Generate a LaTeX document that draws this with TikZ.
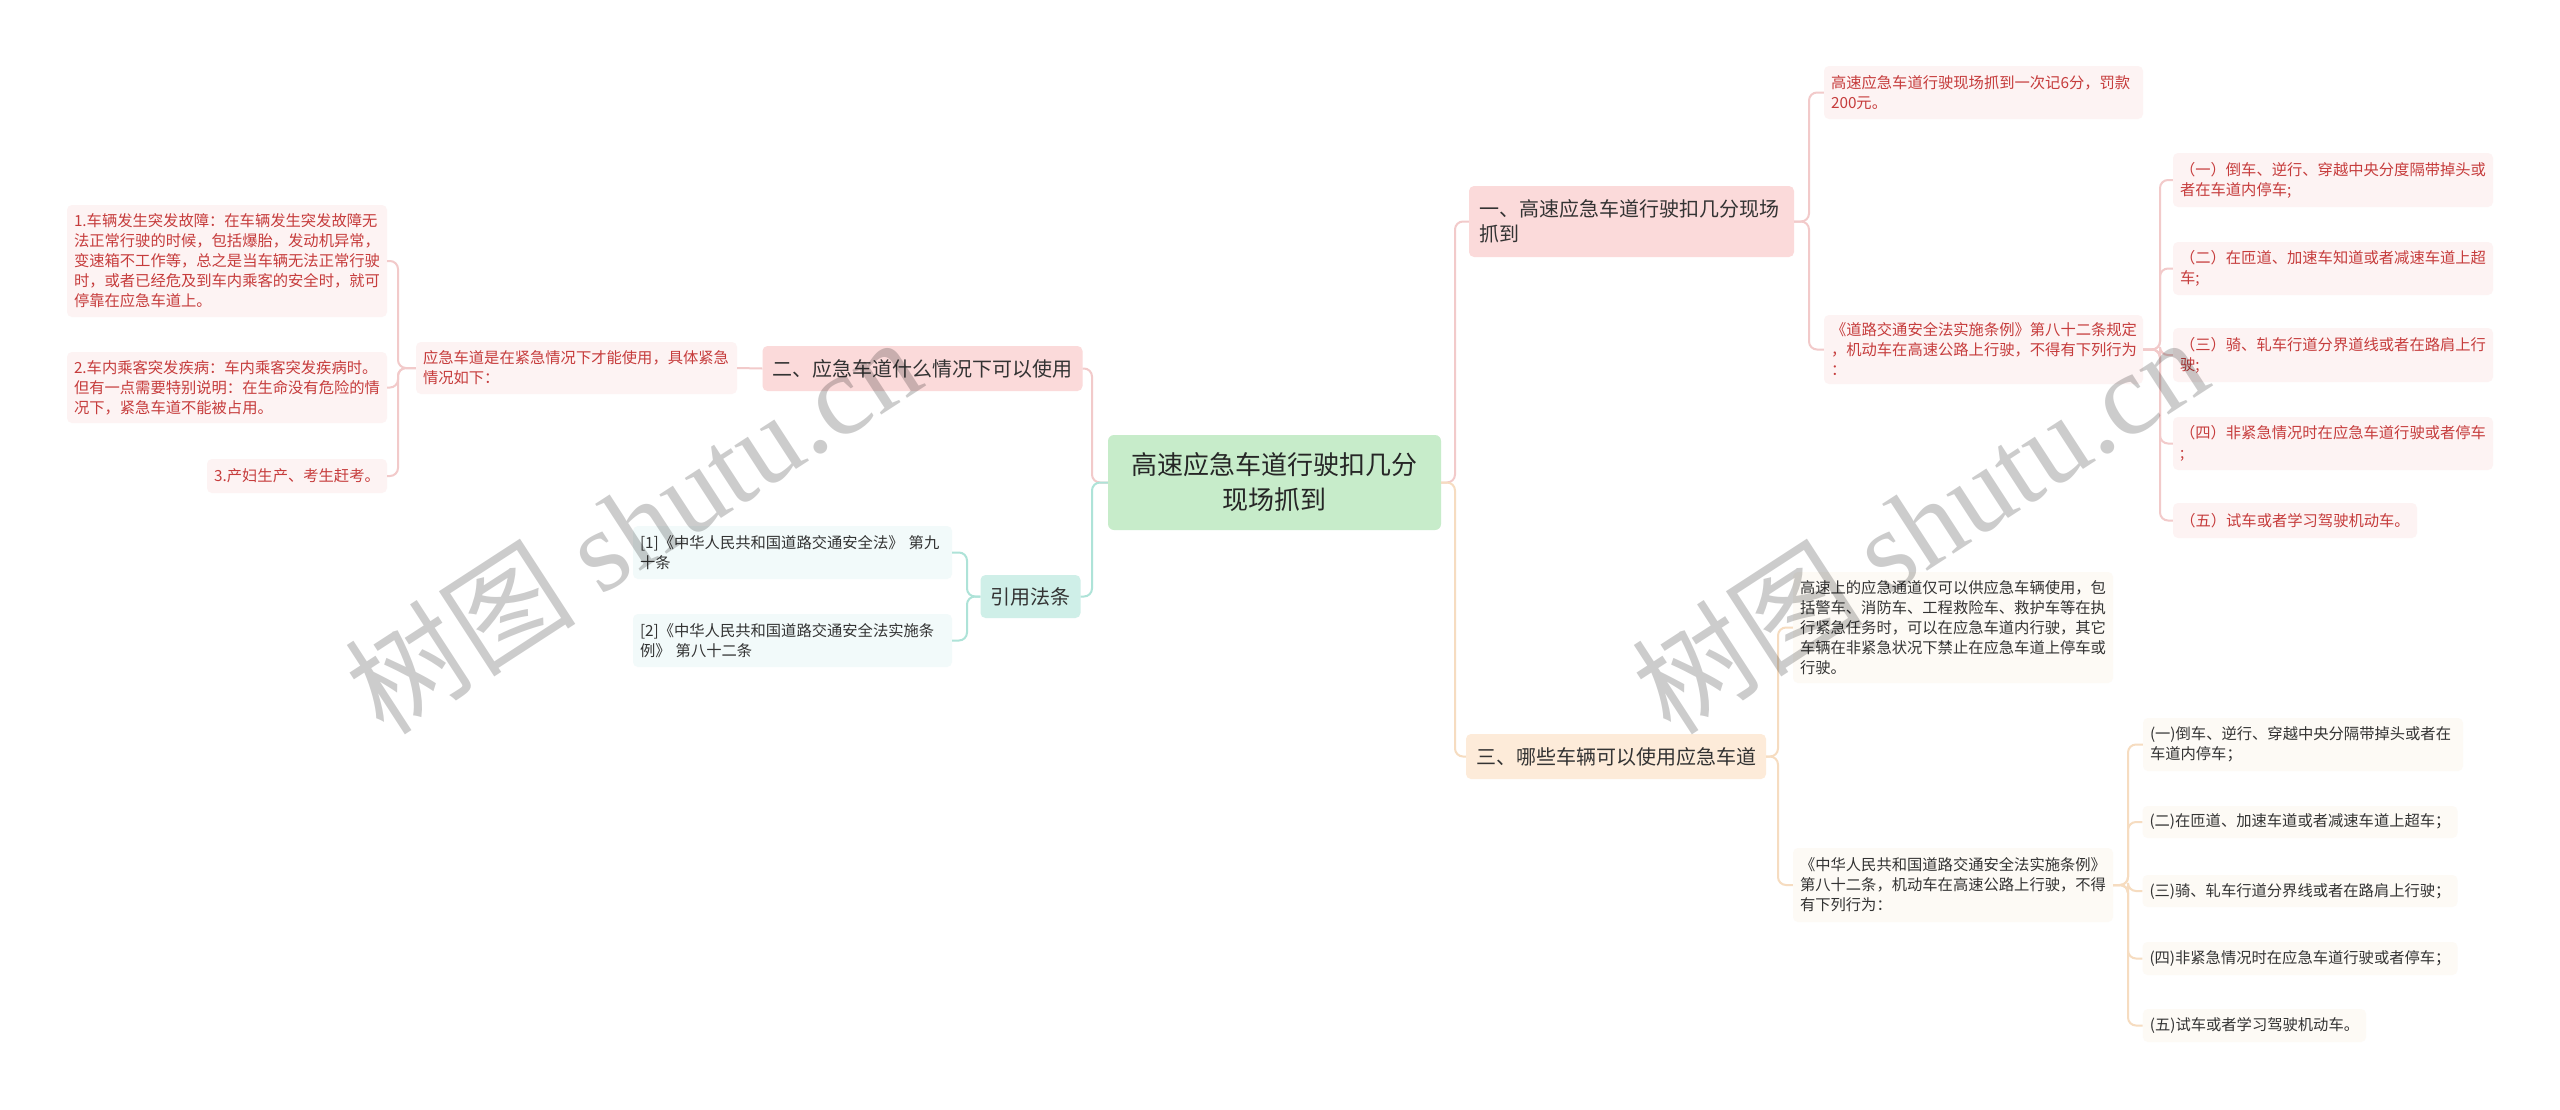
\documentclass[tikz,border=0pt]{standalone}
\usepackage{fontspec}
\setmainfont{Noto Sans CJK SC}
\newfontfamily\wmlat{Liberation Serif}
\definecolor{rootfill}{HTML}{C7ECCA}
\definecolor{bpink}{HTML}{FBDADA}
\definecolor{bteal}{HTML}{CFEFE8}
\definecolor{bpeach}{HTML}{FDEBD9}
\definecolor{lpink}{HTML}{FDF3F3}
\definecolor{lteal}{HTML}{F2FAFA}
\definecolor{lbeige}{HTML}{FDFAF5}
\definecolor{tred}{HTML}{C63C3C}
\definecolor{tdark}{HTML}{333333}
\definecolor{cpinkc}{HTML}{F2CACA}
\definecolor{ctealc}{HTML}{AEE3D8}
\definecolor{cpeachc}{HTML}{F6DCC0}
\begin{document}
\begin{tikzpicture}[x=1pt,y=-1pt]
\tikzset{
  base/.style={rounded corners=5pt, inner xsep=7pt, inner ysep=0pt, align=left},
  leaffont/.style={font=\fontsize{15.3}{20}\selectfont},
  leafR/.style={base, leaffont, fill=lpink, text=tred},
  leafT/.style={base, leaffont, fill=lteal, text=tdark},
  leafB/.style={base, leaffont, fill=lbeige, text=tdark},
  br/.style={rounded corners=5pt, inner xsep=10pt, inner ysep=0pt, text=tdark, font=\fontsize{20}{25}\selectfont},
  rootbox/.style={rounded corners=6pt, fill=rootfill, text=black!85, align=center, font=\fontsize{26}{35}\selectfont},
  cpink/.style={draw=cpinkc, line width=2pt, rounded corners=8pt},
  cteal/.style={draw=ctealc, line width=2pt, rounded corners=8pt},
  cpeach/.style={draw=cpeachc, line width=2pt, rounded corners=8pt},
  wm/.style={rotate=33, text=black, text opacity=0.2, font=\fontsize{116}{116}\selectfont}
}
\useasboundingbox[fill=white] (0,0) rectangle (2560,1109);

% root
\node[rootbox, minimum width=333pt, minimum height=95pt] (root) at (1274.5,482.5) {高速应急车道行驶扣几分\\现场抓到};

% main branches
\node[br, fill=bpink, align=left, text width=305pt, minimum height=71pt] (b1) at (1631.5,221.5) {一、高速应急车道行驶扣几分现场\\抓到};
\node[br, fill=bpink, minimum width=313pt, minimum height=45pt] (b2) at (922.5,368.5) {二、应急车道什么情况下可以使用};
\node[br, fill=bteal, minimum width=97pt, minimum height=43pt] (b3) at (1030.5,596.5) {引用法条};
\node[br, fill=bpeach, minimum width=294pt, minimum height=45pt] (b4) at (1616,756.5) {三、哪些车辆可以使用应急车道};

% left: branch 2
\node[leafR, text width=307pt, minimum height=52pt] (ej) at (576.5,368) {应急车道是在紧急情况下才能使用，具体紧急\\情况如下：};
\node[leafR, text width=306pt, minimum height=112pt] (L1) at (227,261) {1.车辆发生突发故障：在车辆发生突发故障无\\法正常行驶的时候，包括爆胎，发动机异常，\\变速箱不工作等，总之是当车辆无法正常行驶\\时，或者已经危及到车内乘客的安全时，就可\\停靠在应急车道上。};
\node[leafR, text width=306pt, minimum height=71pt] (L2) at (227,387.5) {2.车内乘客突发疾病：车内乘客突发疾病时。\\但有一点需要特别说明：在生命没有危险的情\\况下，紧急车道不能被占用。};
\node[leafR, minimum width=180pt, minimum height=34pt] (L3) at (297,476) {3.产妇生产、考生赶考。};

% left: references
\node[leafT, text width=305pt, minimum height=53pt] (R1) at (792.5,552.5) {[1]《中华人民共和国道路交通安全法》 第九\\十条};
\node[leafT, text width=305pt, minimum height=53pt] (R2) at (792.5,640.5) {[2]《中华人民共和国道路交通安全法实施条\\例》 第八十二条};

% right: branch 1
\node[leafR, text width=305pt, minimum height=53pt] (A1) at (1983.5,92.5) {高速应急车道行驶现场抓到一次记6分，罚款\\200元。};
\node[leafR, text width=305pt, minimum height=69pt] (A2) at (1983.5,349.5) {《道路交通安全法实施条例》第八十二条规定\\，机动车在高速公路上行驶，不得有下列行为\\：};
\node[leafR, text width=306pt, minimum height=54pt] (B1) at (2333,180) {（一）倒车、逆行、穿越中央分度隔带掉头或\\者在车道内停车;};
\node[leafR, text width=306pt, minimum height=53pt] (B2) at (2333,268.5) {（二）在匝道、加速车知道或者减速车道上超\\车;};
\node[leafR, text width=306pt, minimum height=54pt] (B3) at (2333,355) {（三）骑、轧车行道分界道线或者在路肩上行\\驶;};
\node[leafR, text width=306pt, minimum height=53pt] (B4) at (2333,443.5) {（四）非紧急情况时在应急车道行驶或者停车\\;};
\node[leafR, minimum width=244pt, minimum height=35pt] (B5) at (2295,520.5) {（五）试车或者学习驾驶机动车。};

% right: branch 3
\node[leafB, text width=306pt, minimum height=111pt] (C1) at (1953,627.5) {高速上的应急通道仅可以供应急车辆使用，包\\括警车、消防车、工程救险车、救护车等在执\\行紧急任务时，可以在应急车道内行驶，其它\\车辆在非紧急状况下禁止在应急车道上停车或\\行驶。};
\node[leafB, text width=306pt, minimum height=74pt] (C2) at (1953,885) {《中华人民共和国道路交通安全法实施条例》\\第八十二条，机动车在高速公路上行驶，不得\\有下列行为：};
\node[leafB, text width=306pt, minimum height=53pt] (D1) at (2303,744.5) {(一)倒车、逆行、穿越中央分隔带掉头或者在\\车道内停车；};
\node[leafB, minimum width=314pt, minimum height=32pt] (D2) at (2300,822) {(二)在匝道、加速车道或者减速车道上超车；};
\node[leafB, minimum width=314pt, minimum height=32pt] (D3) at (2300,891) {(三)骑、轧车行道分界线或者在路肩上行驶；};
\node[leafB, minimum width=314pt, minimum height=33pt] (D4) at (2300,958.5) {(四)非紧急情况时在应急车道行驶或者停车；};
\node[leafB, minimum width=223pt, minimum height=33pt] (D5) at (2254.5,1025.5) {(五)试车或者学习驾驶机动车。};

% connectors
\draw[cpink] (root.west) -- (1092,482.5) |- (b2.east);
\draw[cteal] (root.west) -- (1092,482.5) |- (b3.east);
\draw[cpink] (b2.west) -- (ej.east);
\foreach \n in {L1,L2,L3} \draw[cpink] (ej.west) -- (398,368) |- (\n.east);
\foreach \n in {R1,R2} \draw[cteal] (b3.west) -- (967,596.5) |- (\n.east);
\draw[cpink] (root.east) -- (1455,482.5) |- (b1.west);
\draw[cpeach] (root.east) -- (1455,482.5) |- (b4.west);
\foreach \n in {A1,A2} \draw[cpink] (b1.east) -- (1809,221.5) |- (\n.west);
\foreach \n in {B1,B2,B3,B4,B5} \draw[cpink] (A2.east) -- (2160,349.5) |- (\n.west);
\foreach \n in {C1,C2} \draw[cpeach] (b4.east) -- (1778,756.5) |- (\n.west);
\foreach \n in {D1,D2,D3,D4,D5} \draw[cpeach] (C2.east) -- (2128,885) |- (\n.west);

% watermarks
\node[wm] (wm1) at (632,524) {树图 {\wmlat shutu.cn}};
\node[wm] (wm2) at (1919,524) {树图 {\wmlat shutu.cn}};
\end{tikzpicture}
\end{document}
